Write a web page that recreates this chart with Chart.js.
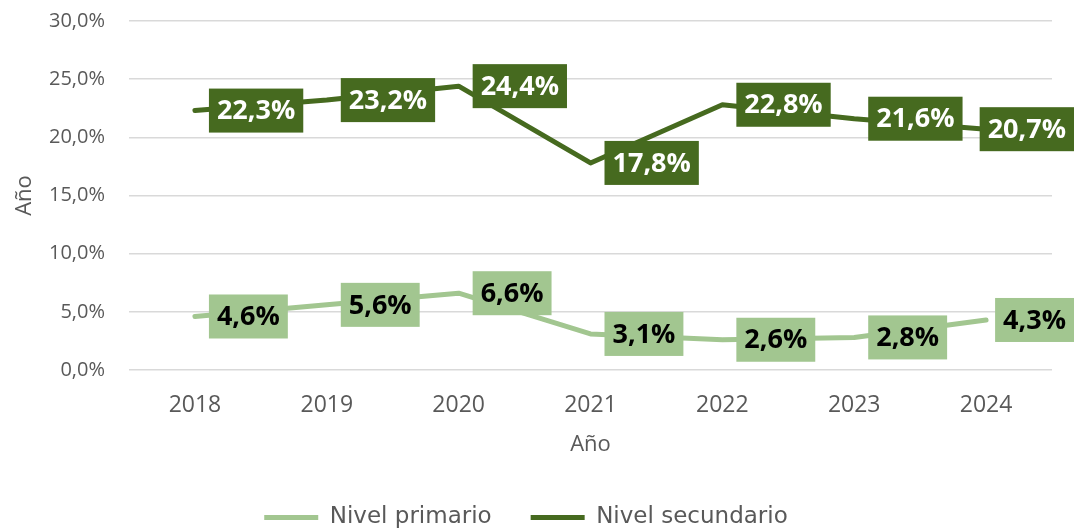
<!DOCTYPE html>
<html>
<head>
<meta charset="utf-8">
<script src="https://cdn.jsdelivr.net/npm/chart.js@4"></script>
<style>
  html, body { margin: 0; padding: 0; background: #ffffff; }
  #wrap { width: 1074px; height: 529px; }
</style>
</head>
<body>
<div id="wrap"><canvas id="c" width="1074" height="529"></canvas></div>
<script>
const categories = ['2018', '2019', '2020', '2021', '2022', '2023', '2024'];
const seriesNames = ['Nivel primario', 'Nivel secundario'];
const primario = [4.6, 5.6, 6.6, 3.1, 2.6, 2.8, 4.3];
const secundario = [22.3, 23.2, 24.4, 17.8, 22.8, 21.6, 20.7];
const yTicks = [0, 5, 10, 15, 20, 25, 30];
const axisTitleX = 'Año';
const axisTitleY = 'Año';

const LIGHT = '#a2c690';
const DARK = '#466a1f';
const labelTextColors = ['#000000', '#ffffff'];
const GREY = '#595959';

function fmt(v) { return v.toFixed(1).replace('.', ',') + '%'; }

const boxLabels = {
  id: 'boxLabels',
  afterDatasetsDraw(chart) {
    const ctx = chart.ctx;
    chart.data.datasets.forEach((ds, i) => {
      const meta = chart.getDatasetMeta(i);
      meta.data.forEach((pt, j) => {
        const text = fmt(ds.data[j]);
        ctx.save();
        ctx.font = 'bold 27px "Open Sans"';
        const tw = ctx.measureText(text).width;
        const w = tw + 16, h = 44;
        const x0 = Math.min(pt.x + 14, chart.width - w), y0 = pt.y - h / 2;
        ctx.fillStyle = ds.borderColor;
        ctx.fillRect(x0, y0, w, h);
        ctx.fillStyle = labelTextColors[i];
        ctx.textAlign = 'center';
        ctx.textBaseline = 'middle';
        ctx.fillText(text, x0 + w / 2, pt.y + 1);
        ctx.restore();
      });
    });
  }
};

new Chart(document.getElementById('c'), {
  type: 'line',
  data: {
    labels: categories,
    datasets: [
      { label: seriesNames[0], data: primario, borderColor: LIGHT, backgroundColor: LIGHT,
        borderWidth: 5, pointRadius: 0, borderCapStyle: 'round', borderJoinStyle: 'round', tension: 0 },
      { label: seriesNames[1], data: secundario, borderColor: DARK, backgroundColor: DARK,
        borderWidth: 5, pointRadius: 0, borderCapStyle: 'round', borderJoinStyle: 'round', tension: 0 }
    ]
  },
  options: {
    responsive: false,
    animation: false,
    devicePixelRatio: 1,
    layout: { padding: { left: 0, right: 22, top: 21, bottom: -10 } },
    plugins: {
      tooltip: { enabled: false },
      legend: {
        position: 'bottom',
        labels: {
          usePointStyle: true,
          pointStyle: 'line',
          pointStyleWidth: 54,
          padding: 39,
          color: GREY,
          font: { family: '"DejaVu Sans"', size: 23 }
        }
      }
    },
    scales: {
      x: {
        offset: true,
        grid: { display: false, drawTicks: false },
        border: { display: false },
        ticks: { color: GREY, padding: 22, font: { family: '"Open Sans"', size: 23 } },
        title: { display: true, text: axisTitleX, color: GREY, padding: { top: 0, bottom: 9 },
                 font: { family: '"Open Sans"', size: 22 } },
        afterFit(scale) { scale.height = 97; scale.paddingTop = 0; scale.paddingBottom = 0; }
      },
      y: {
        min: 0, max: 30,
        afterBuildTicks(scale) { scale.ticks = yTicks.map(v => ({ value: v })); },
        grid: { color: '#d9d9d9', lineWidth: 1.5, drawTicks: false },
        border: { display: false },
        ticks: { color: GREY, padding: 24, font: { family: '"Open Sans"', size: 20 },
                 callback: (v) => fmt(v) },
        title: { display: true, text: axisTitleY, color: GREY, padding: { top: 12, bottom: 0 },
                 font: { family: '"Open Sans"', size: 22 } },
        afterFit(scale) { scale.width = 129; scale.paddingTop = 0; scale.paddingBottom = 0; }
      }
    }
  },
  plugins: [boxLabels]
});
</script>
</body>
</html>
